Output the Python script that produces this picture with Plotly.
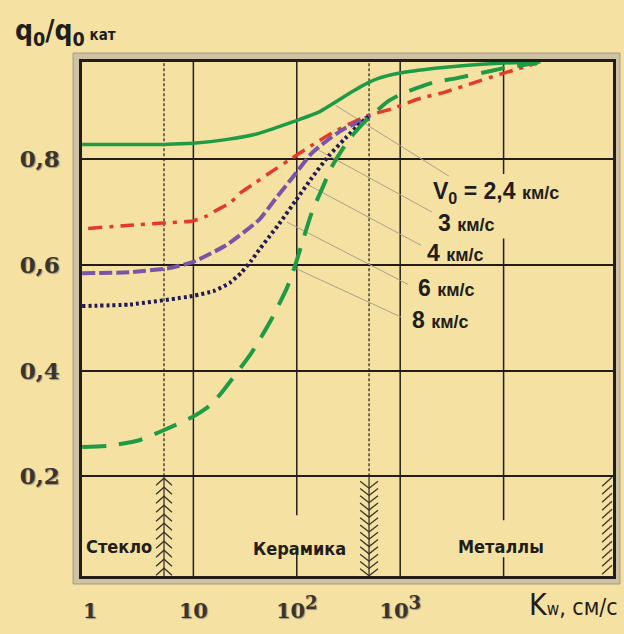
import math
import plotly.graph_objects as go

# ---------------- data ----------------
# Kw, cm/s  and  q0/q0kat for each impact velocity V0
kw_v24 = [0.84, 5.15, 10, 22.2, 43.1, 95.7, 163, 338, 482, 614, 1000, 2170, 4510, 10000, 22700]
q_v24 = [0.828, 0.828, 0.830, 0.838, 0.849, 0.872, 0.889, 0.927, 0.944, 0.953, 0.963, 0.972, 0.978, 0.982, 0.984]

kw_v3 = [0.96, 2.43, 5.04, 9.8, 13.3, 16.6, 23.2, 28.9, 39.5, 57.5, 83.8, 139, 217, 316, 492, 818, 1490, 2710, 5040, 9350, 21200]
q_v3 = [0.669, 0.675, 0.679, 0.683, 0.692, 0.703, 0.719, 0.737, 0.755, 0.777, 0.798, 0.826, 0.849, 0.866, 0.883, 0.895, 0.914, 0.927, 0.944, 0.961, 0.982]

kw_v4 = [0.84, 2.43, 5.88, 9.8, 20.7, 43.1, 62.8, 91.5, 139, 217, 296, 395, 515]
q_v4 = [0.584, 0.586, 0.594, 0.605, 0.637, 0.685, 0.726, 0.766, 0.811, 0.842, 0.859, 0.870, 0.883]

kw_v6 = [0.84, 2.43, 9.8, 16, 22.5, 29, 36, 43.1, 55, 67.2, 97.8, 139, 203, 296, 378, 492]
q_v6 = [0.522, 0.525, 0.541, 0.551, 0.566, 0.585, 0.607, 0.628, 0.655, 0.677, 0.722, 0.764, 0.806, 0.840, 0.861, 0.881]

kw_v8 = [0.84, 1.6, 3.0, 4.9, 9.8, 14.5, 18.2, 36.9, 56.2, 80.2, 95.7, 139, 182, 217, 316, 460, 767, 1070, 2170, 3450, 7500, 10900, 21200]
q_v8 = [0.255, 0.258, 0.268, 0.285, 0.312, 0.334, 0.355, 0.435, 0.495, 0.556, 0.597, 0.698, 0.751, 0.785, 0.836, 0.872, 0.910, 0.925, 0.946, 0.953, 0.967, 0.974, 0.982]

v0_labels = ["V<sub>0</sub> = 2,4", "3", "4", "6", "8"]
# label anchor (Kw, q) and leader-line start/end (Kw, q)
label_kw = [2000, 2218, 1738, 1425, 1247]
label_q = [0.7375, 0.679, 0.622, 0.556, 0.495]
leader_from_kw = [237, 163, 130, 80.2, 95.7]
leader_from_q = [0.902, 0.817, 0.751, 0.681, 0.594]
leader_to_kw = [2960, 2030, 1590, 1194, 1023]
leader_to_q = [0.768, 0.700, 0.637, 0.563, 0.501]

materials = ["Стекло", "Керамика", "Металлы"]
material_kw = [1.9, 107, 9350]
material_q = [0.0675, 0.0637, 0.0675]
boundaries_kw = [5.2, 500]

x_tickvals = [1, 10, 100, 1000]
x_ticktext = ["1", "10", "10<sup><span style='font-size:18px'>2</span></sup>",
              "10<sup><span style='font-size:18px'>3</span></sup>"]
y_tickvals = [0.2, 0.4, 0.6, 0.8]
y_ticktext = ["0,2", "0,4", "0,6", "0,8"]

# ---------------- styling ----------------
BG = "#F5E2A2"
INK = "#221d18"
W, H = 624, 634
ML, MR, MT, MB = 82, 8, 62, 58
XR = [-0.077, 5.058]
YR = [0.011, 0.984]
PW, PH = W - ML - MR, H - MT - MB
PX_DEC = PW / (XR[1] - XR[0])
PX_UNIT = PH / (YR[1] - YR[0])


def xoff(kw, dpx):
    return 10 ** (math.log10(kw) + dpx / PX_DEC)


def yoff(q, dpx):
    return q - dpx / PX_UNIT


def px(xp):
    return (xp - ML) / PW


def py(yp):
    return (H - MB - yp) / PH


fig = go.Figure()

curve_specs = [
    (kw_v24, q_v24, "#1f9a45", "solid", 3.5),
    (kw_v3, q_v3, "#e5392a", "14px,7px,4px,7px", 3.5),
    (kw_v4, q_v4, "#7855a6", "13px,4px", 4),
    (kw_v6, q_v6, "#211a55", "3px,3px", 4),
    (kw_v8, q_v8, "#1f9a45", "24px,13px", 4),
]

# leader lines (thin grey)
for i in range(len(v0_labels)):
    fig.add_trace(go.Scatter(
        x=[leader_from_kw[i], leader_to_kw[i]], y=[leader_from_q[i], leader_to_q[i]],
        mode="lines", line=dict(color="#a8a08c", width=1), hoverinfo="skip", showlegend=False))

# hatch marks at the bottom (material boundaries)
hx, hy = [], []
b = boundaries_kw[0]
for k in range(11):
    top = yoff(0.2, 2 + 9 * k)
    hx += [xoff(b, -8), b, xoff(b, 8), None]
    hy += [yoff(top, 7), top, yoff(top, 7), None]
hx += [b, b, None]
hy += [0.2, YR[0], None]
b = boundaries_kw[1]
for k in range(13):
    top = yoff(0.2, 5 + 7.3 * k)
    hx += [xoff(b, -9), b, xoff(b, 9), None]
    hy += [top, yoff(top, 7), top, None]
hx += [b, b, None]
hy += [0.2, YR[0], None]
rb = 10 ** XR[1]
for k in range(12):
    top = yoff(0.2, 1 + 8 * k)
    hx += [xoff(rb, -11), xoff(rb, -1), None]
    hy += [yoff(top, 9), top, None]
fig.add_trace(go.Scatter(x=hx, y=hy, mode="lines", line=dict(color="#3a332b", width=1.3),
                         hoverinfo="skip", showlegend=False))

for xs, ys, col, dash, wd in curve_specs:
    fig.add_trace(go.Scatter(x=xs, y=ys, mode="lines",
                             line=dict(color=col, dash=dash, width=wd, shape="spline", smoothing=0.5),
                             hoverinfo="skip", showlegend=False))

# ---------------- shapes: frame and vertical grid ----------------
shapes = []
o = dict(x0=px(73), x1=px(623), y0=py(584), y1=py(53))
i_ = dict(x0=px(80), x1=px(618), y0=py(578), y1=py(60))
ring = (f"M{o['x0']},{o['y0']} L{o['x1']},{o['y0']} L{o['x1']},{o['y1']} L{o['x0']},{o['y1']} Z "
        f"M{i_['x0']},{i_['y0']} L{i_['x1']},{i_['y0']} L{i_['x1']},{i_['y1']} L{i_['x0']},{i_['y1']} Z")
shapes.append(dict(type="path", path=ring, xref="paper", yref="paper", fillrule="evenodd",
                   fillcolor="#cdc3a4", line=dict(color="#a39a82", width=1), layer="below"))


def vseg(xv, y0, y1, dash="solid", w=1.5):
    # shapes on a log axis take data values
    shapes.append(dict(type="line", xref="x", yref="y", x0=xv, x1=xv, y0=y0, y1=y1,
                       line=dict(color=INK, width=w, dash=dash), layer="below"))


vseg(10, YR[0], YR[1])
vseg(1000, YR[0], YR[1])
vseg(100, yoff(0.2, 39), YR[1])
vseg(100, YR[0], yoff(0.2, 74))
vseg(10000, 0.772, YR[1])
vseg(10000, yoff(0.2, 44), 0.650)
vseg(10000, YR[0], yoff(0.2, 81))
for b in boundaries_kw:
    vseg(b, 0.2, YR[1], dash="3px,2px", w=1.2)

# ---------------- annotations ----------------
ann = []
COND = "DejaVu Sans Condensed, Liberation Sans Narrow, Liberation Sans, sans-serif"
for i, t in enumerate(v0_labels):
    ann.append(dict(x=math.log10(label_kw[i]), y=label_q[i], xref="x", yref="y", showarrow=False,
                    xanchor="left", yanchor="middle",
                    text=f"<b>{t} <span style='font-size:18px'>км/с</span></b>",
                    font=dict(family="Liberation Sans, Arial, sans-serif", size=23, color=INK)))
for i, t in enumerate(materials):
    ann.append(dict(x=math.log10(material_kw[i]), y=material_q[i], xref="x", yref="y", showarrow=False,
                    xanchor="center", yanchor="middle", text=f"<b>{t}</b>",
                    font=dict(family=COND, size=18, color=INK)))
ann.append(dict(x=px(13), y=py(33), xref="paper", yref="paper", showarrow=False,
                xanchor="left", yanchor="middle",
                text="<b>q<sub>0</sub>/q<sub>0</sub><span style='font-size:15px'> кат</span></b>",
                font=dict(family=COND, size=28, color=INK)))
ann.append(dict(x=px(623), y=py(604), xref="paper", yref="paper", showarrow=False,
                xanchor="right", yanchor="middle",
                text="K<span style='font-size:17px'>w</span><span style='font-size:23px'>, см/с</span>",
                font=dict(family=COND, size=30, color=INK)))

tickfont = dict(family="DejaVu Serif, serif", size=21, color="#3a342d", weight="bold",
                shadow="1px 1px 1px #9c927a")

fig.update_layout(
    width=W, height=H, margin=dict(l=ML, r=MR, t=MT, b=MB, pad=0),
    paper_bgcolor=BG, plot_bgcolor=BG,
    shapes=shapes, annotations=ann, showlegend=False,
    xaxis=dict(type="log", range=XR, showgrid=False, zeroline=False, showline=True, mirror=True,
               linecolor=INK, linewidth=2.5, ticks="", tickvals=x_tickvals, ticktext=x_ticktext,
               tickfont=tickfont, ticklabelstandoff=14),
    yaxis=dict(range=YR, showgrid=True, gridcolor=INK, gridwidth=1.5, zeroline=False, showline=True,
               mirror=True, linecolor=INK, linewidth=2.5, ticks="", tickvals=y_tickvals,
               ticktext=y_ticktext, tickfont=dict(tickfont, size=23), ticklabelstandoff=15),
)

fig.write_html(
    "out.html",
    config={"displayModeBar": False},
    post_script=("document.body.style.margin='0';document.body.style.overflow='hidden';"
                 f"document.body.style.background='{BG}';"),
)
